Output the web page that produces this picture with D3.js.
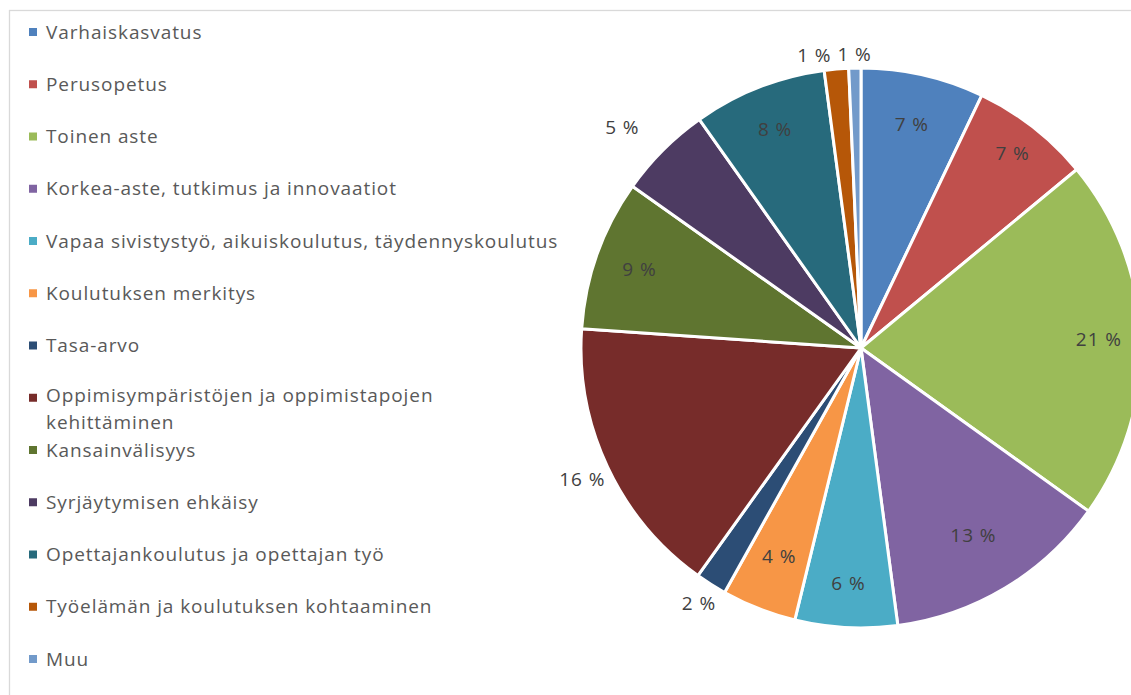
<!DOCTYPE html>
<html lang="fi">
<head>
  <meta charset="utf-8">
  <title>Piirakka</title>
  <script src="https://d3js.org/d3.v7.min.js"></script>
  <style>
    body { margin: 0; background: #fff; }
    text { font-family: "Open Sans", Lato, sans-serif; }
  </style>
</head>
<body>
  <script>
    var categories = [
      "Varhaiskasvatus",
      "Perusopetus",
      "Toinen aste",
      "Korkea-aste, tutkimus ja innovaatiot",
      "Vapaa sivistystyö, aikuiskoulutus, täydennyskoulutus",
      "Koulutuksen merkitys",
      "Tasa-arvo",
      "Oppimisympäristöjen ja oppimistapojen kehittäminen",
      "Kansainvälisyys",
      "Syrjäytymisen ehkäisy",
      "Opettajankoulutus ja opettajan työ",
      "Työelämän ja koulutuksen kohtaaminen",
      "Muu"
    ];
    // osuudet prosentteina (luettu kuvasta)
    var shares = [7.1, 6.9, 20.9, 13.0, 5.9, 4.3, 1.8, 16.2, 8.7, 5.4, 7.7, 1.4, 0.7];
    var colors = ["#4F81BD", "#C0504D", "#9BBB59", "#8064A2", "#4BACC6", "#F79646",
      "#2C4D75", "#772C2A", "#5F7530", "#4D3B62", "#276A7C", "#B65708", "#729ACA"];
    // label distance from centre, as a fraction of the radius (Excel "best fit")
    var labelPos = [0.82, 0.88, 0.85, 0.78, 0.84, 0.8, 1.08, 1.1, 0.84, 1.16, 0.84, 1.06, 1.05];
    var labelNudge = [0, 0, 0, 0, 0, 0, 0, 0, 0, -0.04, 0, -0.07, 0];

    var w = 1131, h = 695;
    var cx = 861, cy = 348, r = 280;

    var svg = d3.select('body').append('svg')
      .attr('width', w)
      .attr('height', h);

    // chart area border
    svg.append('rect')
      .attr('x', 9.5).attr('y', 10.5)
      .attr('width', w + 20).attr('height', h + 20)
      .attr('fill', 'none')
      .attr('stroke', '#d9d9d9')
      .attr('stroke-width', 1.3);

    var pie = d3.pie().sort(null).value(function(d) { return d; });
    var arcs = pie(shares);
    var arc = d3.arc().innerRadius(0).outerRadius(r);

    var g = svg.append('g')
      .attr('transform', 'translate(' + [cx, cy] + ')');

    g.selectAll('path')
      .data(arcs)
    .enter().append('path')
      .attr('d', arc)
      .attr('fill', function(d, i) { return colors[i]; })
      .attr('stroke', '#fff')
      .attr('stroke-width', 3)
      .attr('stroke-linejoin', 'round');

    g.selectAll('.lbl')
      .data(arcs)
    .enter().append('text')
      .attr('class', 'lbl')
      .attr('transform', function(d, i) {
        var a = (d.startAngle + d.endAngle) / 2 + labelNudge[i];
        var rr = r * labelPos[i];
        return 'translate(' + [Math.sin(a) * rr, -Math.cos(a) * rr] + ')';
      })
      .attr('text-anchor', 'middle')
      .attr('dy', '0.35em')
      .attr('font-size', 19)
      .attr('letter-spacing', '0.9px')
      .attr('fill', '#404040')
      .text(function(d) { return Math.round(d.data) + ' %'; });

    // legend
    var legend = svg.append('g');
    var rowY = d3.scaleLinear().domain([0, 12]).range([32, 659]);
    categories.forEach(function(c, i) {
      var y = rowY(i);
      legend.append('rect')
        .attr('x', 29).attr('y', y - 4)
        .attr('width', 8).attr('height', 8)
        .attr('fill', colors[i]);
      var t = legend.append('text')
        .attr('x', 46).attr('y', y)
        .attr('dy', '0.35em')
        .attr('font-size', 19)
        .attr('letter-spacing', '0.9px')
        .attr('fill', '#595959');
      if (i === 7) {
        t.attr('y', y - 2);
        t.append('tspan').text('Oppimisympäristöjen ja oppimistapojen');
        t.append('tspan').attr('x', 46).attr('dy', 27).text('kehittäminen');
      } else {
        t.text(c);
      }
    });
  </script>
</body>
</html>
